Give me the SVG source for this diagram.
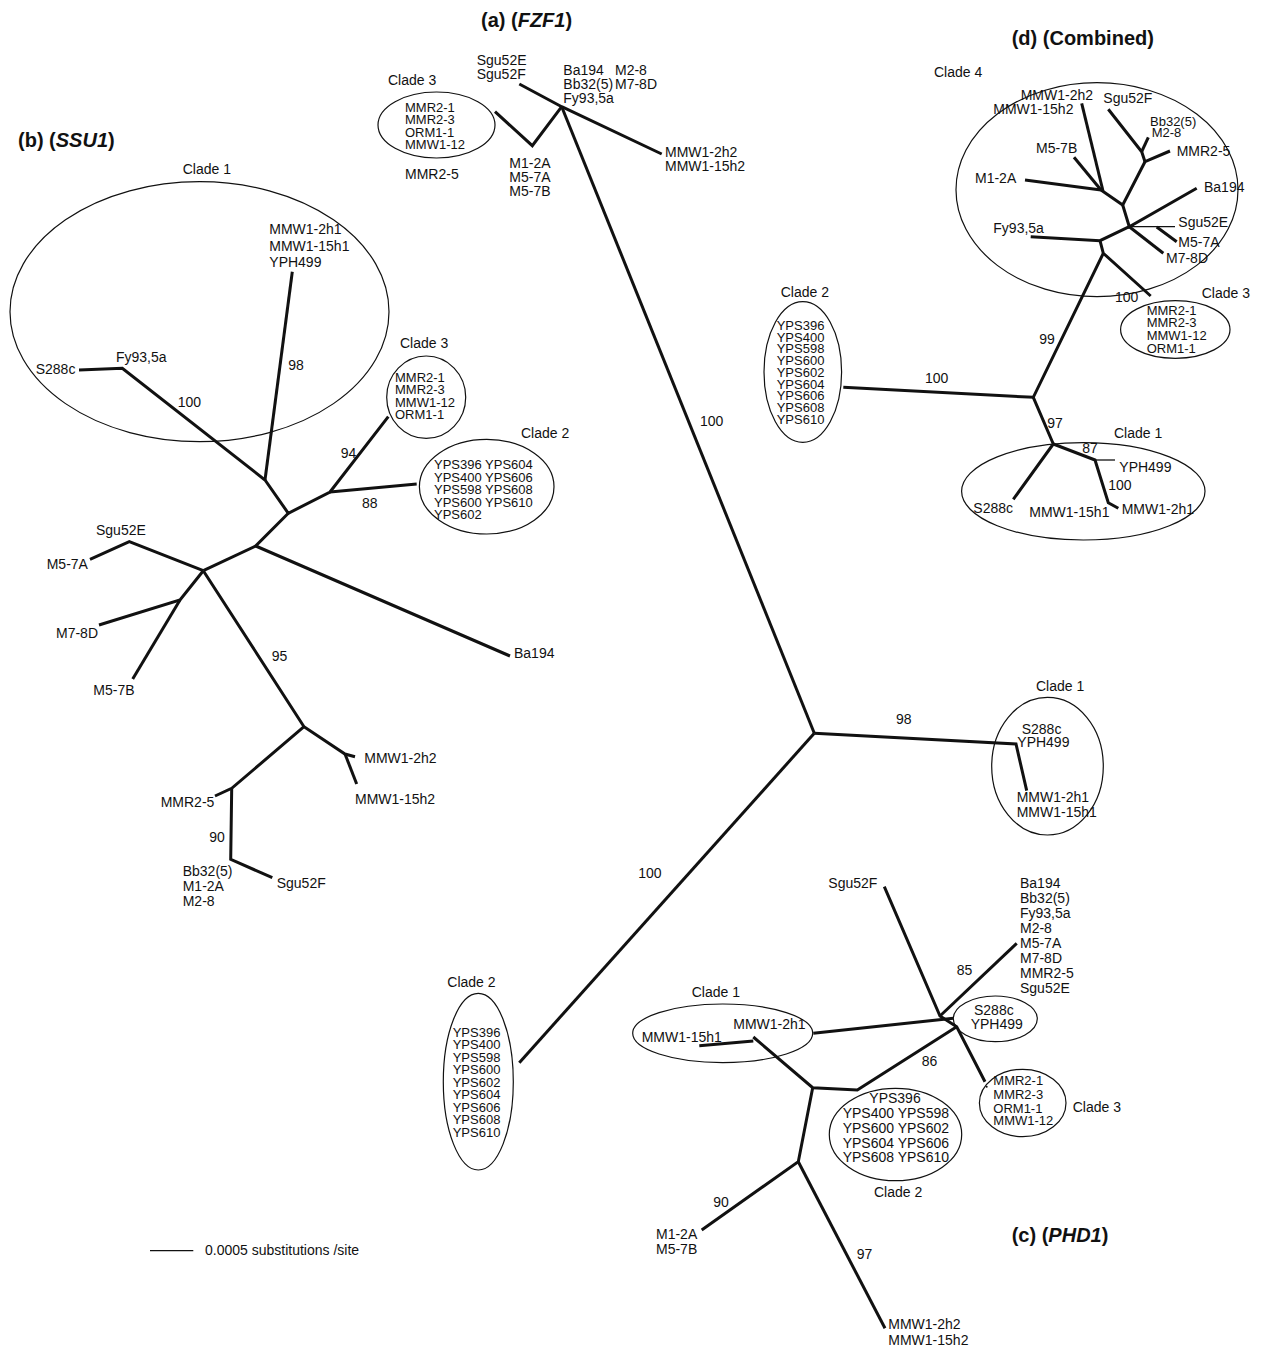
<svg xmlns="http://www.w3.org/2000/svg" width="1266" height="1350" viewBox="0 0 1266 1350">
<style>
text{font-family:"Liberation Sans",Arial,Helvetica,sans-serif;font-size:14px;fill:#111}
.s{font-size:13px}
.t{font-size:20px;font-weight:bold}
.i{font-style:italic}
.b{fill:none;stroke:#111;stroke-width:3;stroke-linejoin:miter;stroke-linecap:butt}
.n{fill:none;stroke:#111;stroke-width:1.3}
.e{fill:none;stroke:#111;stroke-width:1.2}
</style>
<rect width="1266" height="1350" fill="#fff"/>

<!-- ================= (a) FZF1 ================= -->
<g id="tree-a">
<text class="t" x="481" y="27">(a) (<tspan class="i">FZF1</tspan>)</text>
<g id="a-clade3">
<ellipse class="e" cx="436.5" cy="125" rx="58.5" ry="33"/>
<text x="388" y="85">Clade 3</text>
<g class="s">
<text class="s" x="405" y="111.7">MMR2-1</text>
<text class="s" x="405" y="123.8">MMR2-3</text>
<text class="s" x="405" y="136.5">ORM1-1</text>
<text class="s" x="405" y="149">MMW1-12</text>
</g>
</g>
<text x="405" y="179">MMR2-5</text>
<text x="476.7" y="65">Sgu52E</text>
<text x="476.7" y="79.3">Sgu52F</text>
<text x="563.3" y="75">Ba194</text>
<text x="615" y="75">M2-8</text>
<text x="563.3" y="89">Bb32(5)</text>
<text x="615" y="89">M7-8D</text>
<text x="563.3" y="103">Fy93,5a</text>
<text x="509.3" y="167.7">M1-2A</text>
<text x="509.3" y="181.7">M5-7A</text>
<text x="509.3" y="195.7">M5-7B</text>
<text x="665" y="156.7">MMW1-2h2</text>
<text x="665" y="170.7">MMW1-15h2</text>
<text x="700" y="426">100</text>
<text x="896" y="724">98</text>
<text x="638.3" y="878.3">100</text>
<g id="a-clade1">
<ellipse class="e" cx="1047.5" cy="766.2" rx="55.8" ry="68.8"/>
<text x="1036" y="690.7">Clade 1</text>
<text x="1021.7" y="734">S288c</text>
<text x="1017.3" y="747.3">YPH499</text>
<text x="1016.7" y="801.7">MMW1-2h1</text>
<text x="1016.7" y="816.7">MMW1-15h1</text>
</g>
<g id="a-clade2">
<ellipse class="e" cx="478.3" cy="1081.7" rx="35" ry="88.3"/>
<text x="447.3" y="987.3">Clade 2</text>
<text class="s" x="452.7" y="1036.7">YPS396</text>
<text class="s" x="452.7" y="1049.2">YPS400</text>
<text class="s" x="452.7" y="1061.7">YPS598</text>
<text class="s" x="452.7" y="1074.2">YPS600</text>
<text class="s" x="452.7" y="1086.7">YPS602</text>
<text class="s" x="452.7" y="1099.2">YPS604</text>
<text class="s" x="452.7" y="1111.7">YPS606</text>
<text class="s" x="452.7" y="1124.2">YPS608</text>
<text class="s" x="452.7" y="1136.7">YPS610</text>
</g>
</g>

<!-- ================= (b) SSU1 ================= -->
<g id="tree-b">
<text class="t" x="18" y="147">(b) (<tspan class="i">SSU1</tspan>)</text>
<g id="b-clade1">
<ellipse class="e" cx="199.5" cy="311.7" rx="189.5" ry="130"/>
<text x="182.7" y="174.3">Clade 1</text>
<text x="269.3" y="234.3">MMW1-2h1</text>
<text x="269.3" y="250.7">MMW1-15h1</text>
<text x="269.3" y="267.3">YPH499</text>
<text x="35.7" y="374">S288c</text>
<text x="116" y="361.7">Fy93,5a</text>
</g>
<text x="288.3" y="370">98</text>
<text x="177.7" y="406.7">100</text>
<g id="b-clade3">
<ellipse class="e" cx="426.2" cy="397.2" rx="39.5" ry="41.2"/>
<text x="400" y="348.3">Clade 3</text>
<text class="s" x="395" y="381.7">MMR2-1</text>
<text class="s" x="395" y="394.2">MMR2-3</text>
<text class="s" x="395" y="406.7">MMW1-12</text>
<text class="s" x="395" y="419.3">ORM1-1</text>
</g>
<g id="b-clade2">
<ellipse class="e" cx="486.7" cy="486.7" rx="67.3" ry="47.3"/>
<text x="521" y="438.3">Clade 2</text>
<text class="s" x="434" y="469.3">YPS396 YPS604</text>
<text class="s" x="434" y="481.7">YPS400 YPS606</text>
<text class="s" x="434" y="494.1">YPS598 YPS608</text>
<text class="s" x="434" y="506.5">YPS600 YPS610</text>
<text class="s" x="434" y="518.9">YPS602</text>
</g>
<text x="340.7" y="458.3">94</text>
<text x="362" y="508">88</text>
<text x="96" y="535">Sgu52E</text>
<text x="46.7" y="569.3">M5-7A</text>
<text x="56" y="638.3">M7-8D</text>
<text x="93.3" y="695">M5-7B</text>
<text x="271.7" y="660.7">95</text>
<text x="514" y="658.3">Ba194</text>
<text x="364.3" y="762.7">MMW1-2h2</text>
<text x="355" y="804.3">MMW1-15h2</text>
<text x="160.7" y="806.7">MMR2-5</text>
<text x="209.3" y="841.7">90</text>
<text x="182.7" y="876">Bb32(5)</text>
<text x="182.7" y="891">M1-2A</text>
<text x="182.7" y="906">M2-8</text>
<text x="276.7" y="888.3">Sgu52F</text>
</g>

<!-- ================= (c) PHD1 ================= -->
<g id="tree-c">
<text class="t" x="1011.7" y="1241.7">(c) (<tspan class="i">PHD1</tspan>)</text>
<text x="828.3" y="888.3">Sgu52F</text>
<text x="1020" y="888.3">Ba194</text>
<text x="1020" y="903.3">Bb32(5)</text>
<text x="1020" y="918.3">Fy93,5a</text>
<text x="1020" y="933.3">M2-8</text>
<text x="1020" y="948.3">M5-7A</text>
<text x="1020" y="963.3">M7-8D</text>
<text x="1020" y="978.3">MMR2-5</text>
<text x="1020" y="993.3">Sgu52E</text>
<text x="956.7" y="975">85</text>
<g id="c-clade1">
<ellipse class="e" cx="722.7" cy="1033.3" rx="90" ry="29.3"/>
<text x="691.7" y="996.7">Clade 1</text>
<text x="733.3" y="1029.3">MMW1-2h1</text>
<text x="641.7" y="1041.7">MMW1-15h1</text>
</g>
<g id="c-s288c">
<ellipse class="e" cx="995.3" cy="1018.8" rx="42" ry="22.8"/>
<text x="974" y="1015">S288c</text>
<text x="970.7" y="1029.3">YPH499</text>
</g>
<text x="921.7" y="1066">86</text>
<g id="c-clade3">
<ellipse class="e" cx="1022.7" cy="1103" rx="43.3" ry="33.7"/>
<text class="s" x="993.3" y="1085">MMR2-1</text>
<text class="s" x="993.3" y="1099">MMR2-3</text>
<text class="s" x="993.3" y="1112.5">ORM1-1</text>
<text class="s" x="993.3" y="1125">MMW1-12</text>
<text x="1072.7" y="1111.7">Clade 3</text>
</g>
<g id="c-clade2">
<ellipse class="e" cx="895.5" cy="1134.5" rx="66.2" ry="46.2"/>
<text x="869.3" y="1102.7">YPS396</text>
<text x="842.7" y="1118.3">YPS400 YPS598</text>
<text x="842.7" y="1133.3">YPS600 YPS602</text>
<text x="842.7" y="1147.7">YPS604 YPS606</text>
<text x="842.7" y="1162.3">YPS608 YPS610</text>
<text x="874" y="1196.7">Clade 2</text>
</g>
<text x="713.3" y="1207.3">90</text>
<text x="856.7" y="1259.3">97</text>
<text x="656" y="1239.3">M1-2A</text>
<text x="656" y="1254">M5-7B</text>
<text x="888.3" y="1329.3">MMW1-2h2</text>
<text x="888.3" y="1345">MMW1-15h2</text>
</g>

<!-- ================= (d) Combined ================= -->
<g id="tree-d">
<text class="t" x="1011.7" y="45">(d) (Combined)</text>
<g id="d-clade4">
<ellipse class="e" cx="1097" cy="189.7" rx="141" ry="107"/>
<text x="934" y="76.7">Clade 4</text>
<text x="1020.7" y="100">MMW1-2h2</text>
<text x="993.3" y="114">MMW1-15h2</text>
<text x="1103.3" y="103.3">Sgu52F</text>
<text class="s" x="1150" y="126">Bb32(5)</text>
<text class="s" x="1151.7" y="137">M2-8</text>
<text x="1036" y="152.7">M5-7B</text>
<text x="1176.7" y="156">MMR2-5</text>
<text x="975" y="183.3">M1-2A</text>
<text x="1204" y="191.7">Ba194</text>
<text x="993.3" y="233.3">Fy93,5a</text>
<text x="1178.3" y="227.3">Sgu52E</text>
<text x="1178.3" y="247.3">M5-7A</text>
<text x="1166" y="262.7">M7-8D</text>
</g>
<text x="1115" y="301.7">100</text>
<g id="d-clade3">
<ellipse class="e" cx="1175.3" cy="329.5" rx="54.7" ry="28.8"/>
<text x="1201.7" y="298.3">Clade 3</text>
<text class="s" x="1146.7" y="315">MMR2-1</text>
<text class="s" x="1146.7" y="327.3">MMR2-3</text>
<text class="s" x="1146.7" y="340">MMW1-12</text>
<text class="s" x="1146.7" y="352.7">ORM1-1</text>
</g>
<g id="d-clade2">
<ellipse class="e" cx="802.8" cy="372" rx="38.8" ry="70.3"/>
<text x="780.7" y="297.3">Clade 2</text>
<text class="s" x="776.7" y="330">YPS396</text>
<text class="s" x="776.7" y="341.7">YPS400</text>
<text class="s" x="776.7" y="353.4">YPS598</text>
<text class="s" x="776.7" y="365.1">YPS600</text>
<text class="s" x="776.7" y="376.8">YPS602</text>
<text class="s" x="776.7" y="388.5">YPS604</text>
<text class="s" x="776.7" y="400.2">YPS606</text>
<text class="s" x="776.7" y="411.9">YPS608</text>
<text class="s" x="776.7" y="423.6">YPS610</text>
</g>
<text x="925" y="383.3">100</text>
<text x="1039.3" y="344.3">99</text>
<text x="1047.3" y="428.3">97</text>
<g id="d-clade1">
<ellipse class="e" cx="1083.3" cy="491.3" rx="121.7" ry="48.7"/>
<text x="1114" y="437.7">Clade 1</text>
<text x="1119.3" y="471.7">YPH499</text>
<text x="973.3" y="513.3">S288c</text>
<text x="1029.3" y="517.3">MMW1-15h1</text>
<text x="1121.7" y="514.3">MMW1-2h1</text>
</g>
<text x="1082.3" y="452.7">87</text>
<text x="1108.3" y="490">100</text>
</g>

<!-- ================= connectors ================= -->
<g id="connectors">
<!-- (a) -->
<polyline class="b" points="519.3,84 561.7,106.7 661.7,154"/>
<polyline class="b" points="495,111.7 532.3,145.7 561.7,106.7"/>
<line class="b" x1="561.7" y1="106.7" x2="814.3" y2="733.3"/>
<polyline class="b" points="814.3,733.3 1016,744 1026.7,790.7"/>
<line class="b" x1="814.3" y1="733.3" x2="519.3" y2="1062.7"/>
<!-- (b) -->
<line class="b" x1="292.3" y1="271.7" x2="265" y2="480"/>
<polyline class="b" points="79,370 122.3,368.3 265,480 288.3,513.3 330,492 388.3,416.7"/>
<line class="b" x1="330" y1="492" x2="416.7" y2="484"/>
<polyline class="b" points="288.3,513.3 255.7,546 510,656"/>
<line class="b" x1="255.7" y1="546" x2="203.3" y2="570.7"/>
<polyline class="b" points="203.3,570.7 129.3,541.7 90,559.3"/>
<polyline class="b" points="203.3,570.7 180,600 99,625"/>
<line class="b" x1="180" y1="600" x2="132.7" y2="679"/>
<polyline class="b" points="203.3,570.7 304,726.7 345,754 355,756.7"/>
<line class="b" x1="345" y1="754" x2="356.7" y2="784"/>
<polyline class="b" points="304,726.7 231.7,788.3 215,796"/>
<polyline class="b" points="231.7,788.3 230.7,859.3 272.3,877.7"/>
<!-- (c) -->
<polyline class="b" points="884.3,886.7 940,1016 956.7,1026.7 985,1081.7"/>
<line class="b" x1="940" y1="1016" x2="1016.7" y2="943.3"/>
<line class="b" x1="813.3" y1="1033.3" x2="953.3" y2="1018.3"/>
<line class="b" x1="699.3" y1="1045.7" x2="753.3" y2="1041"/>
<polyline class="b" points="753.3,1037 812.7,1087.7 857.3,1090 956.7,1026.7"/>
<polyline class="b" points="812.7,1087.7 798.3,1161.7 701.7,1230"/>
<line class="b" x1="798.3" y1="1161.7" x2="885" y2="1328.3"/>
<circle cx="986.7" cy="1086.7" r="1" fill="#111"/>
<!-- (d) -->
<line class="b" x1="1025" y1="180" x2="1101" y2="190"/>
<line class="b" x1="1074" y1="157.3" x2="1101" y2="190"/>
<line class="b" x1="1081.7" y1="103.3" x2="1103" y2="191"/>
<polyline class="b" points="1101,190 1122.7,205 1145,161.7 1170,151"/>
<polyline class="b" points="1145,161.7 1141.7,151.7 1108.3,109.3"/>
<line class="b" x1="1141.7" y1="151.7" x2="1148.3" y2="137.3"/>
<polyline class="b" points="1122.7,205 1129.3,226.7 1196.7,188.3"/>
<line class="n" x1="1129.3" y1="226.7" x2="1175" y2="226.7"/>
<line class="b" x1="1156.7" y1="227" x2="1176.7" y2="241.7"/>
<line class="b" x1="1129.3" y1="226.7" x2="1163.3" y2="253.3"/>
<polyline class="b" points="1129.3,226.7 1100,240.7 1030.7,236.7"/>
<polyline class="b" points="1100,240.7 1103.3,253.3 1150.7,296"/>
<polyline class="b" points="1103.3,253.3 1033.3,397.3 843.3,387.3"/>
<polyline class="b" points="1033.3,397.3 1053.3,444 1013.3,499.3"/>
<polyline class="b" points="1053.3,444 1095,460 1108.3,502.7 1118.3,508.3"/>
<line class="n" x1="1095" y1="460" x2="1115" y2="460"/>
<!-- scale bar -->
<line class="n" x1="150" y1="1250.7" x2="193.3" y2="1250.7"/>
</g>
<text x="205" y="1255">0.0005 substitutions /site</text>
</svg>
